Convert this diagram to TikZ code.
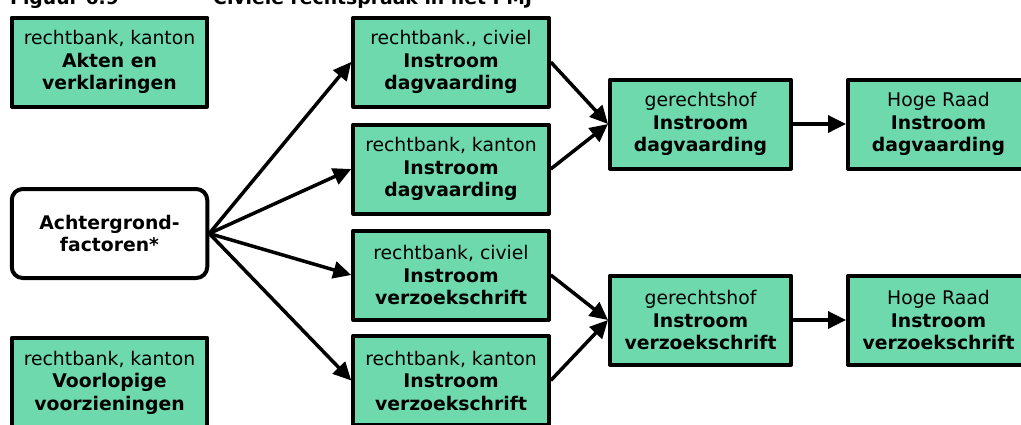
\documentclass[tikz,border=0pt]{standalone}
\usepackage{fontspec}
\setmainfont{DejaVu Sans}
\usetikzlibrary{arrows.meta}
\definecolor{boxgreen}{RGB}{110,217,173}
\begin{document}
\begin{tikzpicture}[x=1pt,y=-1pt,
  box/.style={draw=black, line width=4pt, line join=round, fill=boxgreen,
    minimum height=89pt, align=center, inner sep=0pt,
    font=\fontsize{18.8}{22.5}\selectfont},
  wbox/.style={box, minimum width=195.5pt},
  gbox/.style={box, minimum width=181pt},
  startbox/.style={box, fill=white, rounded corners=11pt, minimum width=195.5pt,
    font=\bfseries\fontsize{18.8}{22.5}\selectfont},
  arr/.style={line width=3.5pt, -{Triangle[length=18pt,width=17pt]}},
  ttl/.style={anchor=base west, inner sep=0pt, font=\bfseries\fontsize{18.8}{22.5}\selectfont}]
\useasboundingbox (0,0) rectangle (1021,424);
\clip (0,0) rectangle (1021,424);

\node[ttl] (t1) at (10,4) {Figuur 6.9};
\node[ttl] (t2) at (213,4) {Civiele rechtspraak in het PMJ};

\node[wbox] (akten) at (109.5,62) {rechtbank, kanton\\\textbf{Akten en}\\\textbf{verklaringen}};
\node[startbox] (ach) at (109.5,233.5) {Achtergrond-\\factoren*};
\node[wbox] (voorl) at (109.5,382.5) {rechtbank, kanton\\\textbf{Voorlopige}\\\textbf{voorzieningen}};

\node[wbox] (b1) at (451,62) {rechtbank., civiel\\\textbf{Instroom}\\\textbf{dagvaarding}};
\node[wbox] (b2) at (451,169) {rechtbank, kanton\\\textbf{Instroom}\\\textbf{dagvaarding}};
\node[wbox] (b3) at (451,275) {rechtbank, civiel\\\textbf{Instroom}\\\textbf{verzoekschrift}};
\node[wbox] (b4) at (451,380.5) {rechtbank, kanton\\\textbf{Instroom}\\\textbf{verzoekschrift}};

\node[gbox] (g1) at (700.5,124) {gerechtshof\\\textbf{Instroom}\\\textbf{dagvaarding}};
\node[gbox] (g2) at (700.5,320) {gerechtshof\\\textbf{Instroom}\\\textbf{verzoekschrift}};

\node[gbox] (h1) at (938.5,124) {Hoge Raad\\\textbf{Instroom}\\\textbf{dagvaarding}};
\node[gbox] (h2) at (938.5,320) {Hoge Raad\\\textbf{Instroom}\\\textbf{verzoekschrift}};

\draw[arr] (ach.east) -- (b1.west);
\draw[arr] (ach.east) -- (b2.west);
\draw[arr] (ach.east) -- (b3.west);
\draw[arr] (ach.east) -- (b4.west);

\draw[arr] (b1.east) -- (g1.west);
\draw[arr] (b2.east) -- (g1.west);
\draw[arr] (b3.east) -- (g2.west);
\draw[arr] (b4.east) -- (g2.west);

\draw[arr] (g1.east) -- (h1.west);
\draw[arr] (g2.east) -- (h2.west);
\end{tikzpicture}
\end{document}
